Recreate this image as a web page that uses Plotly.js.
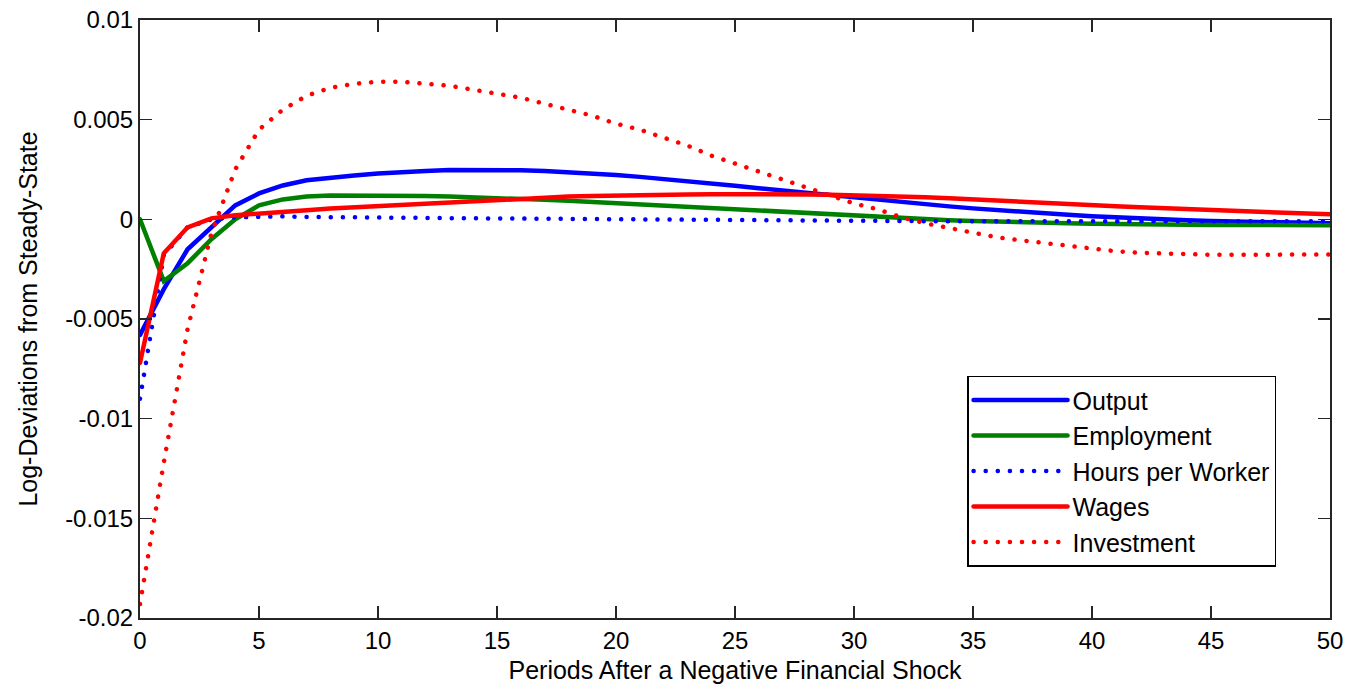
<!DOCTYPE html>
<html>
<head>
<meta charset="utf-8">
<script src="https://cdn.plot.ly/plotly-3.0.1.min.js"></script>
<style>
html,body{margin:0;padding:0;background:#fff;}
#chart{width:1358px;height:687px;}
.js-line{stroke-linecap:round;}
</style>
</head>
<body>
<div id="chart"></div>
<script>
const periods = Array.from({length: 51}, (_, i) => i);

const output = [-0.0058,-0.0035,-0.0015,-0.0004,0.0007,0.0013,0.0017,0.00196,0.0021,0.0022,
 0.0023,0.00238,0.00243,0.00247,0.00248,0.00248,0.00246,0.00242,0.00237,0.0023,
 0.00222,0.00213,0.00203,0.00192,0.0018,0.00168,0.00156,0.00144,0.00132,0.0012,
 0.00108,0.00097,0.00086,0.00075,0.00065,0.00055,0.00046,0.00038,0.0003,0.00023,
 0.00016,0.0001,0.00005,0.0,-0.00004,-0.00008,-0.00011,-0.00014,-0.00016,-0.00018,-0.0002];

const employment = [0,-0.0031,-0.0022,-0.001,0,0.0007,0.001,0.00115,0.0012,0.0012,
 0.0012,0.00119,0.00117,0.00114,0.00111,0.00107,0.00103,0.00098,0.00093,0.00087,
 0.00081,0.00075,0.00069,0.00062,0.00055,0.00048,0.00042,0.00035,0.00029,0.00022,
 0.00016,0.0001,0.00005,0.0,-0.00004,-0.00008,-0.00012,-0.00015,-0.00018,-0.0002,
 -0.00022,-0.00024,-0.00025,-0.00026,-0.00027,-0.00028,-0.00028,-0.00029,-0.00029,-0.0003,-0.0003];

const hours = [-0.009,-0.0018,-0.0004,0.0,0.0001,0.00015,0.00015,0.00012,0.0001,0.0001,
 0.0001,0.00008,0.00007,0.00006,0.00005,0.00004,0.00003,0.00003,0.00002,0.00001,
 0.0,0.0,-0.00001,-0.00002,-0.00003,-0.00004,-0.00005,-0.00006,-0.00007,-0.00008,
 -0.00009,-0.00009,-0.0001,-0.0001,-0.0001,-0.0001,-0.0001,-0.0001,-0.0001,-0.0001,
 -0.0001,-0.0001,-0.0001,-0.0001,-0.0001,-0.0001,-0.0001,-0.0001,-0.0001,-0.0001,-0.0001];

const wages = [-0.0072,-0.0017,-0.0004,0.00005,0.0002,0.0003,0.00038,0.00046,0.00054,0.0006,
 0.00067,0.00074,0.0008,0.00088,0.00095,0.001,0.00105,0.0011,0.00114,0.00117,
 0.0012,0.00122,0.00124,0.00125,0.00126,0.00127,0.00127,0.00126,0.00125,0.00123,
 0.00121,0.00118,0.00115,0.00111,0.00106,0.00101,0.00095,0.0009,0.00084,0.00078,
 0.00072,0.00066,0.0006,0.00055,0.0005,0.00045,0.0004,0.00036,0.00032,0.00028,0.00025];

const investment = [-0.0193,-0.0122,-0.0055,-0.0007,0.0025,0.0045,0.0055,0.0062,0.0066,0.0068,
 0.0069,0.0069,0.0068,0.0067,0.0065,0.0063,0.0061,0.0058,0.0055,0.0052,
 0.0048,0.0045,0.0041,0.0037,0.0032,0.0028,0.0024,0.002,0.0016,0.0012,
 0.0008,0.0005,0.0001,-0.0002,-0.00045,-0.0007,-0.0009,-0.00105,-0.0012,-0.00135,
 -0.0015,-0.0016,-0.00168,-0.00173,-0.00176,-0.00178,-0.00178,-0.00178,-0.00177,-0.00177,-0.00176];

const xTicks = [0,5,10,15,20,25,30,35,40,45,50];
const yTicks = [0.01,0.005,0,-0.005,-0.01,-0.015,-0.02];
const yTickText = ["0.01","0.005","0","-0.005","-0.01","-0.015","-0.02"];

const names = ["Output","Employment","Hours per Worker","Wages","Investment"];
const series = [output, employment, hours, wages, investment];
const colors = ["#0000ff","#008000","#0000ff","#ff0000","#ff0000"];
const dashes = ["solid","solid","0.1px,12px","solid","0.1px,12px"];

const traces = series.map((s, i) => ({
  x: periods, y: s, type: "scatter", mode: "lines", name: names[i],
  legendgroup: "g" + i,
  line: {color: colors[i], width: 4.5, dash: dashes[i]}
}));

const font = {family: "Liberation Sans, Arial, sans-serif", size: 24, color: "#000"};
const bigFont = {family: "Liberation Sans, Arial, sans-serif", size: 25, color: "#000"};

const layout = {
  width: 1358, height: 687,
  margin: {l: 140, r: 28, t: 20, b: 69},
  paper_bgcolor: "#fff", plot_bgcolor: "#fff",
  font: font,
  showlegend: true,
  legend: {
    x: 0.695, y: 0.405, xanchor: "left", yanchor: "top",
    bordercolor: "#000", borderwidth: 1.5, bgcolor: "#fff",
    font: bigFont, itemwidth: 94, tracegroupgap: 15,
    traceorder: "normal"
  },
  xaxis: {
    range: [0, 50], tickvals: xTicks, ticks: "inside", ticklen: 12,
    tickcolor: "#262626", tickwidth: 1.5,
    showline: true, linecolor: "#262626", linewidth: 2, mirror: "allticks",
    showgrid: false, zeroline: false, tickfont: font,
    title: {text: "Periods After a Negative Financial Shock", font: bigFont, standoff: 9}
  },
  yaxis: {
    range: [-0.02, 0.01], tickvals: yTicks, ticktext: yTickText,
    ticks: "inside", ticklen: 12, tickcolor: "#262626", tickwidth: 1.5,
    showline: true, linecolor: "#262626", linewidth: 2, mirror: "allticks",
    showgrid: false, zeroline: false, tickfont: font,
    title: {text: "Log-Deviations from Steady-State", font: bigFont, standoff: 20}
  }
};

Plotly.newPlot("chart", traces, layout, {displayModeBar: false, staticPlot: true});
</script>
</body>
</html>
